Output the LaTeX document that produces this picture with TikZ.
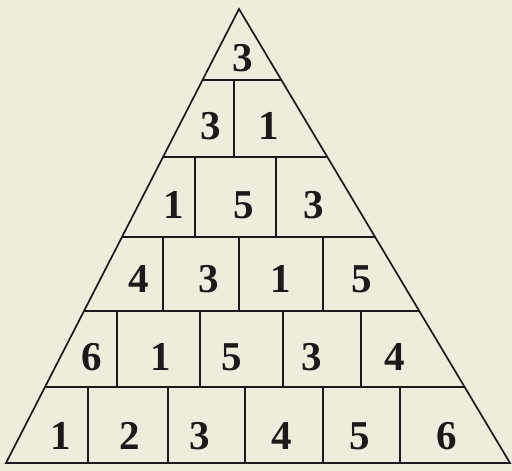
\documentclass[tikz,border=0pt]{standalone}
\usepackage{fontspec}
\setmainfont{Liberation Serif}
\usetikzlibrary{calc}
\definecolor{paper}{RGB}{238,237,221}
\definecolor{ink}{RGB}{28,26,24}
\begin{document}
\begin{tikzpicture}[x=1pt,y=-1pt,
  edge/.style={draw=ink,line width=1.7pt,line join=miter},
  num/.style={text=ink,font=\bfseries\fontsize{41}{41}\selectfont,inner sep=0pt,anchor=center}]
\fill[paper] (0,0) rectangle (512,471);
\useasboundingbox (0,0) rectangle (512,471);
\coordinate (A) at (239,9);
\coordinate (B) at (6,463);
\coordinate (C) at (510,463);
% horizontal row lines
\foreach \yy in {80,157,237,311,387}{
  \pgfmathsetmacro{\tt}{(\yy-9)/454}
  \draw[edge] ($(A)!\tt!(B)$) -- ($(A)!\tt!(C)$);
}
\draw[edge] (A) -- (B) -- (C) -- cycle;
% vertical dividers
\foreach \xx in {234}{\draw[edge] (\xx,80) -- (\xx,157);}
\foreach \xx in {195,276}{\draw[edge] (\xx,157) -- (\xx,237);}
\foreach \xx in {163,239,323}{\draw[edge] (\xx,237) -- (\xx,311);}
\foreach \xx in {117,200,283,361}{\draw[edge] (\xx,311) -- (\xx,387);}
\foreach \xx in {88,168,245,323,400}{\draw[edge] (\xx,387) -- (\xx,463);}
% numbers
\node[num] (r1a) at (243,58) {3};
\node[num] (r2a) at (211,126) {3};
\node[num] (r2b) at (269,126) {1};
\node[num] (r3a) at (174,205) {1};
\node[num] (r3b) at (244,205) {5};
\node[num] (r3c) at (314,205) {3};
\node[num] (r4a) at (139,279) {4};
\node[num] (r4b) at (209,279) {3};
\node[num] (r4c) at (281,279) {1};
\node[num] (r4d) at (362,279) {5};
\node[num] (r5a) at (92,357) {6};
\node[num] (r5b) at (161,357) {1};
\node[num] (r5c) at (232,357) {5};
\node[num] (r5d) at (312,357) {3};
\node[num] (r5e) at (395,357) {4};
\node[num] (r6a) at (61,436) {1};
\node[num] (r6b) at (130,436) {2};
\node[num] (r6c) at (200,436) {3};
\node[num] (r6d) at (282,436) {4};
\node[num] (r6e) at (360,436) {5};
\node[num] (r6f) at (447,436) {6};
\end{tikzpicture}
\end{document}
